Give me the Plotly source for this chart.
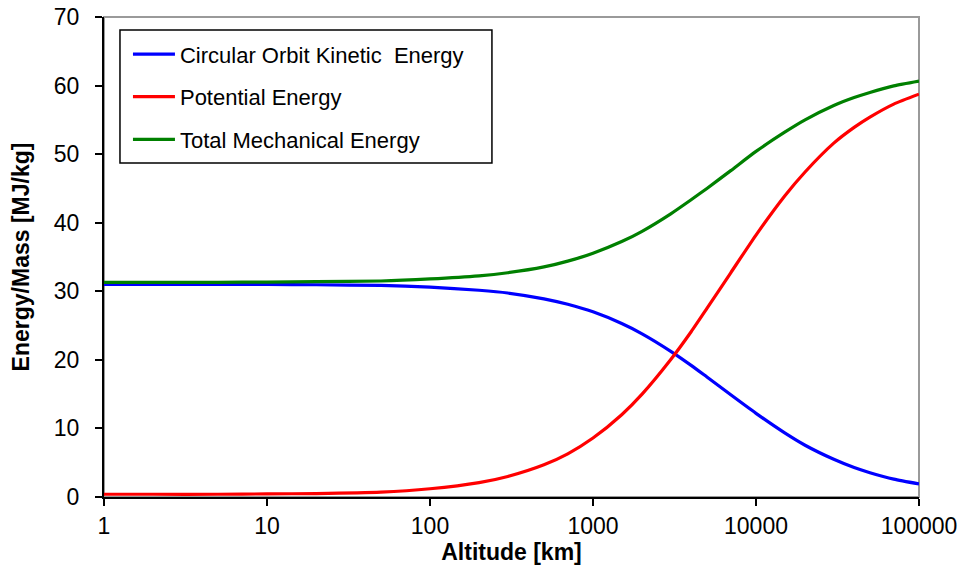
import plotly.graph_objects as go

altitude_km = [1, 2, 5, 10, 20, 50, 100, 200, 300, 500, 700, 1000, 1500, 2000, 3000,
               4000, 5000, 7000, 10000, 15000, 20000, 30000, 40000, 50000, 70000, 100000]
kinetic = [31.0, 31.0, 31.0, 31.0, 30.95, 30.85, 30.6, 30.15, 29.75, 28.9, 28.1, 27.0, 25.3,
           23.8, 21.25, 19.2, 17.5, 14.9, 12.2, 9.35, 7.55, 5.5, 4.3, 3.55, 2.6, 1.9]
potential = [0.4, 0.4, 0.4, 0.45, 0.5, 0.7, 1.2, 2.1, 3.0, 4.7, 6.3, 8.6, 12.0, 15.0, 20.05,
             24.1, 27.5, 32.7, 38.2, 43.9, 47.4, 51.6, 53.9, 55.4, 57.3, 58.75]
total = [31.3, 31.3, 31.3, 31.35, 31.4, 31.5, 31.8, 32.25, 32.7, 33.55, 34.4, 35.55, 37.25,
         38.75, 41.3, 43.35, 45.0, 47.6, 50.4, 53.2, 55.0, 57.1, 58.25, 59.0, 59.95, 60.65]

series_names = ["Circular Orbit Kinetic  Energy", "Potential Energy", "Total Mechanical Energy"]
series_colors = ["#0000FF", "#FF0000", "#008000"]
x_ticks = [1, 10, 100, 1000, 10000, 100000]
x_tick_labels = ["1", "10", "100", "1000", "10000", "100000"]
y_ticks = [0, 10, 20, 30, 40, 50, 60, 70]

FONT = "Liberation Sans, Arial, sans-serif"

fig = go.Figure()
for i, (name, vals, col) in enumerate(zip(series_names, [kinetic, potential, total], series_colors)):
    fig.add_trace(go.Scatter(x=altitude_km, y=vals, mode="lines", name=name,
                             legendgroup=f"g{i}",
                             line=dict(color=col, width=3.2, shape="spline", smoothing=0.6)))

# grey plot-area frame (top/right visible) and legend box
fig.add_shape(type="rect", xref="paper", yref="paper", x0=0, y0=0, x1=1, y1=1,
              line=dict(color="#9a9a9a", width=2), layer="below")
fig.add_shape(type="rect", xref="paper", yref="paper", x0=0.0196, y0=0.696, x1=0.476, y1=0.973,
              line=dict(color="black", width=1.5), fillcolor="rgba(0,0,0,0)", layer="above")

fig.update_layout(
    width=966, height=571,
    margin=dict(l=104, r=47, t=17, b=74, autoexpand=False),
    paper_bgcolor="white", plot_bgcolor="white",
    font=dict(family=FONT, color="black"),
    showlegend=True,
    legend=dict(x=0.0294, y=0.966, xanchor="left", yanchor="top",
                borderwidth=0, bgcolor="rgba(0,0,0,0)",
                font=dict(size=22, family=FONT), itemwidth=42,
                traceorder="grouped", tracegroupgap=11),
    xaxis=dict(type="log", range=[0, 5], tickvals=x_ticks, ticktext=x_tick_labels,
               ticks="outside", ticklen=7, tickwidth=1.5, tickcolor="black",
               showline=True, linecolor="black", linewidth=2, showgrid=False,
               zeroline=False, automargin=False, ticklabeloverflow="allow",
               tickfont=dict(size=23, family=FONT),
               title=dict(text="<b>Altitude [km]</b>", font=dict(size=23, family=FONT), standoff=3)),
    yaxis=dict(range=[0, 70], tickvals=y_ticks, ticks="outside", ticklen=7, tickwidth=1.5,
               tickcolor="black", showline=True, linecolor="black", linewidth=2,
               showgrid=False, zeroline=False, automargin=False, ticklabelstandoff=11,
               ticklabeloverflow="allow",
               tickfont=dict(size=23, family=FONT),
               title=dict(text="<b>Energy/Mass [MJ/kg]</b>", font=dict(size=23, family=FONT), standoff=18)),
)

fig.write_html("out.html", config={"displayModeBar": False},
               post_script="document.body.style.margin='0';document.body.style.overflow='hidden';")
